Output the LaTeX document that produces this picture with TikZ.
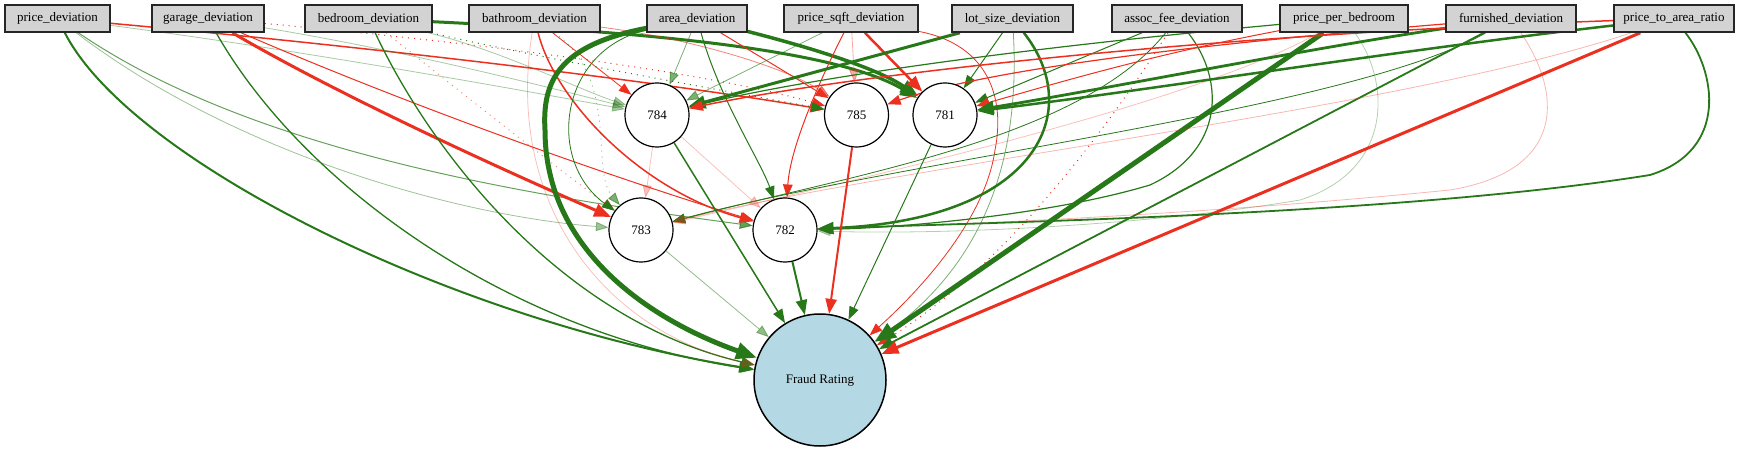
\documentclass[tikz,border=0pt]{standalone}
\usepackage{fontspec}
\setmainfont{Liberation Serif}
\usetikzlibrary{arrows.meta,backgrounds}
\definecolor{grn}{RGB}{38,120,24}
\definecolor{rd}{RGB}{236,48,32}
\definecolor{boxfill}{RGB}{211,211,211}
\definecolor{outfill}{RGB}{180,216,228}
\tikzset{
  tip/.style={-{Triangle[length=11pt 2,width=8pt 1.6]}},
  ge/.style={tip, draw=grn, line width=#1pt},
  re/.style={tip, draw=rd, line width=#1pt},
  dots/.style={dash pattern=on 1pt off 5pt},
  inp/.style={draw=black!85, line width=1.6pt, fill=boxfill, minimum height=27pt, inner sep=0pt, font=\fontsize{13}{15}\selectfont},
  hid/.style={circle, draw=black, line width=1.2pt, fill=white, minimum size=64pt, inner sep=0pt, font=\fontsize{13}{15}\selectfont},
  outn/.style={circle, draw=black, line width=1.5pt, fill=outfill, minimum size=132pt, inner sep=0pt, font=\fontsize{13}{15}\selectfont}
}
\begin{document}
\begin{tikzpicture}[x=1pt,y=-1pt]
\useasboundingbox (0,0) rectangle (1745,454);
% input nodes
\node[inp, minimum width=105pt] (P1) at (57.5,18.5) {price\_deviation};
\node[inp, minimum width=112pt] (P2) at (208,18.5) {garage\_deviation};
\node[inp, minimum width=127pt] (P3) at (368.5,18.5) {bedroom\_deviation};
\node[inp, minimum width=131pt] (P4) at (534.5,18.5) {bathroom\_deviation};
\node[inp, minimum width=100pt] (P5) at (697,18.5) {area\_deviation};
\node[inp, minimum width=134pt] (P6) at (851,18.5) {price\_sqft\_deviation};
\node[inp, minimum width=121pt] (P7) at (1012.5,18.5) {lot\_size\_deviation};
\node[inp, minimum width=130pt] (P8) at (1177,18.5) {assoc\_fee\_deviation};
\node[inp, minimum width=128pt] (P9) at (1344,18.5) {price\_per\_bedroom};
\node[inp, minimum width=130pt] (P10) at (1511,18.5) {furnished\_deviation};
\node[inp, minimum width=120pt] (P11) at (1674,18.5) {price\_to\_area\_ratio};
% hidden nodes
\node[hid] (n784) at (657,115) {784};
\node[hid] (n785) at (856.5,115) {785};
\node[hid] (n781) at (945,115) {781};
\node[hid] (n783) at (641,230) {783};
\node[hid] (n782) at (785,230) {782};
\node[outn] (F) at (820,380) {Fraud Rating};

\begin{scope}[on background layer]
% price_deviation
\draw[ge=2] (P1) .. controls (130,160) and (450,320) .. (F);
\draw[re=1.5] (P1) .. controls (350,45) and (650,80) .. (n785);
\draw[ge=1, opacity=0.7] (P1) .. controls (250,150) and (520,195) .. (n782);
\draw[ge=0.8, opacity=0.45] (P1) .. controls (230,150) and (450,215) .. (n783);
\draw[ge=0.8, opacity=0.4] (P1) .. controls (300,50) and (520,90) .. (n784);
% garage_deviation
\draw[re=3] (P2) .. controls (330,90) and (480,160) .. (n783);
\draw[re=1] (P2) .. controls (420,110) and (620,180) .. (n782);
\draw[ge=1.3] (P2) .. controls (300,180) and (500,330) .. (F);
\draw[ge=0.8, opacity=0.4] (P2) .. controls (400,50) and (540,85) .. (n784);
\draw[re=1, dots] (P2) .. controls (450,40) and (700,70) .. (n785);
% bedroom_deviation
\draw[ge=1.3] (P3) .. controls (430,150) and (560,320) .. (F);
\draw[ge=3] (P3) .. controls (600,30) and (830,45) .. (n781);
\draw[ge=1, dots] (P3) .. controls (550,60) and (720,90) .. (n785);
\draw[re=1, dots, opacity=0.6] (P3) .. controls (470,100) and (560,170) .. (n783);
\draw[ge=0.8, opacity=0.4] (P3) .. controls (500,50) and (580,90) .. (n784);
% bathroom_deviation
\draw[re=1.5] (P4) .. controls (555,100) and (640,190) .. (n782);
\draw[re=0.8, opacity=0.3] (P4) .. controls (505,200) and (600,330) .. (F);
\draw[re=0.8] (P4) -- (n784);
\draw[ge=0.8, dots, opacity=0.6] (P4) .. controls (620,80) and (590,170) .. (n783);
\draw[re=0.8, opacity=0.6] (P4) .. controls (700,40) and (790,70) .. (n785);
% area_deviation
\draw[ge=5] (P5) .. controls (560,45) and (542,80) .. (545,130) .. controls (545,250) and (650,320) .. (F);
\draw[ge=0.8] (P5) .. controls (560,50) and (545,160) .. (n783);
\draw[ge=3.5] (P5) .. controls (820,50) and (880,70) .. (n781);
\draw[ge=1] (P5) .. controls (720,100) and (760,160) .. (n782);
\draw[re=1] (P5) -- (n785);
\draw[ge=0.8, opacity=0.6] (P5) -- (n784);
% price_sqft_deviation
\draw[re=2.5] (P6) -- (n781);
\draw[re=1] (P6) .. controls (815,90) and (790,150) .. (n782);
\draw[re=0.8, opacity=0.4] (P6) -- (n785);
\draw[ge=0.8, opacity=0.6] (P6) -- (n784);
\draw[re=0.8] (P6) .. controls (990,45) and (1005,100) .. (995,150) .. controls (985,220) and (920,290) .. (F);
% lot_size_deviation
\draw[ge=3] (P7) -- (n784);
\draw[ge=2.5] (P7) .. controls (1085,110) and (1040,220) .. (n782);
\draw[ge=1] (P7) -- (n781);
\draw[ge=0.8, opacity=0.6] (P7) .. controls (1020,150) and (990,260) .. (F);
% assoc_fee_deviation
\draw[ge=1] (P8) .. controls (1100,50) and (1030,80) .. (n781);
\draw[ge=0.8] (P8) .. controls (1080,140) and (850,175) .. (n783);
\draw[ge=1.2] (P8) .. controls (1225,80) and (1225,150) .. (1150,185) .. controls (1050,215) and (900,228) .. (n782);
\draw[re=1, dots] (P8) .. controls (1100,140) and (1000,270) .. (F);
% price_per_bedroom
\draw[ge=5] (P9) -- (F);
\draw[ge=1.2] (P9) .. controls (1000,50) and (800,80) .. (n784);
\draw[ge=0.8, opacity=0.35] (P9) .. controls (1390,80) and (1395,170) .. (1300,200) .. controls (1150,225) and (950,235) .. (n782);
\draw[re=1] (P9) .. controls (1150,55) and (1050,85) .. (n781);
\draw[re=0.8, opacity=0.3] (P9) .. controls (1200,100) and (900,170) .. (n783);
% furnished_deviation
\draw[ge=1.8] (P10) -- (F);
\draw[ge=2.8] (P10) .. controls (1300,50) and (1100,90) .. (n781);
\draw[re=1.2] (P10) .. controls (1250,40) and (1000,65) .. (n785);
\draw[ge=0.8] (P10) .. controls (1350,110) and (900,160) .. (n783);
\draw[re=0.8, opacity=0.35] (P10) .. controls (1560,90) and (1570,170) .. (1450,190) .. controls (1200,215) and (950,225) .. (n782);
% price_to_area_ratio
\draw[re=3] (P11) -- (F);
\draw[ge=1.8] (P11) .. controls (1715,70) and (1730,150) .. (1650,175) .. controls (1400,215) and (1000,222) .. (n782);
\draw[ge=2.5] (P11) .. controls (1400,50) and (1150,90) .. (n781);
\draw[re=1.5] (P11) .. controls (1200,35) and (850,75) .. (n784);
\draw[re=0.8, opacity=0.35] (P11) .. controls (1400,110) and (900,165) .. (n783);
% hidden
\draw[ge=1.5] (n784) -- (F);
\draw[re=0.8, opacity=0.3] (n784) -- (n782);
\draw[re=0.8, opacity=0.3] (n784) -- (n783);
\draw[re=2] (n785) -- (F);
\draw[ge=1] (n781) -- (F);
\draw[ge=2] (n782) -- (F);
\draw[ge=0.8, opacity=0.5] (n783) -- (F);
\end{scope}
\end{tikzpicture}
\end{document}
